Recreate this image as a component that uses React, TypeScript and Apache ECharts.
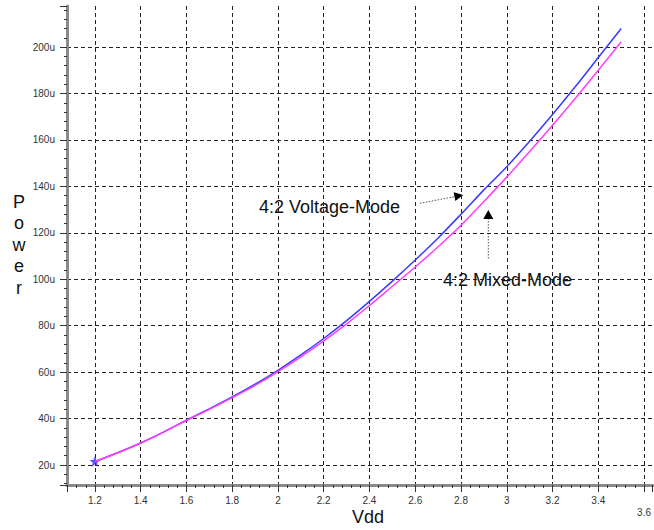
import React, { useEffect, useRef } from "react";
import * as echarts from "echarts";

// Supply voltage sweep (V)
const vdd = [1.2, 1.3, 1.4, 1.5, 1.6, 1.7, 1.8, 1.9, 2.0, 2.1, 2.2, 2.3, 2.4, 2.5, 2.6, 2.7, 2.8, 2.9, 3.0, 3.1, 3.2, 3.3, 3.4, 3.5];
// Power (uW) — 4:2 Voltage-Mode (blue)
const voltageMode = [21.5, 25.3, 29.5, 34.2, 39.3, 44.2, 49.3, 54.8, 60.8, 67.4, 74.5, 82.2, 90.5, 99.2, 108.3, 117.8, 128, 138.5, 148.5, 159.5, 171, 183, 195.5, 208];
// Power (uW) — 4:2 Mixed-Mode (magenta)
const mixedMode = [21.5, 25.3, 29.5, 34.2, 39.3, 44, 49, 54.3, 60.2, 66.6, 73.5, 80.8, 88.7, 97, 105.3, 114, 123.3, 133.5, 144, 155, 166.3, 178, 190, 202.3];

const yTickSuffix = "u";
const xTitle = "Vdd";
const yTitle = "Power";
const labelVoltage = "4:2 Voltage-Mode";
const labelMixed = "4:2 Mixed-Mode";

const FONT = "'Liberation Sans', Arial, Helvetica, sans-serif";
const NARROW = "'Liberation Sans Narrow', 'Liberation Sans', Arial, sans-serif";

export default function App() {
  const ref = useRef<HTMLDivElement>(null);

  useEffect(() => {
    if (!ref.current) return;
    const chart = echarts.init(ref.current, null, { renderer: "svg" });

    const star =
      "path://M0,-5L1.3,-1.6L5,-1.6L2,0.7L3.1,4.3L0,2.1L-3.1,4.3L-2,0.7L-5,-1.6L-1.3,-1.6Z";

    const option: any = {
      animation: false,
      backgroundColor: "#ffffff",
      grid: { left: 67, right: 0, top: 6, bottom: 45, containLabel: false },
      xAxis: {
        type: "value",
        min: 1.078,
        max: 3.638,
        splitNumber: 12,
        minInterval: 0.2,
        maxInterval: 0.2,
        axisLine: { show: true, lineStyle: { color: "#8a8a8a", width: 3 } },
        axisTick: { show: true, inside: false, length: 7, lineStyle: { color: "#333", width: 1 } },
        minorTick: { show: true, splitNumber: 5, length: 3, lineStyle: { color: "#333", width: 1 } },
        axisLabel: {
          showMinLabel: false,
          showMaxLabel: false,
          margin: 10,
          fontFamily: NARROW,
          fontSize: 10,
          color: "#333",
          formatter: (v: number) => {
            const s = String(Math.round(v * 10) / 10);
            return Math.abs(v - 3.6) < 1e-6 ? "{low|" + s + "}" : s;
          },
          rich: { low: { fontFamily: NARROW, fontSize: 10, color: "#333", padding: [12, 0, 0, 0] } },
        },
        splitLine: {
          show: true,
          showMinLine: false,
          showMaxLine: false,
          lineStyle: { color: "#222", type: [4, 3], width: 1 },
        },
      },
      yAxis: {
        type: "value",
        min: 11.4,
        max: 217.7,
        splitNumber: 10,
        minInterval: 20,
        maxInterval: 20,
        axisLine: { show: true, lineStyle: { color: "#8a8a8a", width: 3 } },
        axisTick: { show: true, inside: false, length: 7, lineStyle: { color: "#333", width: 1 } },
        minorTick: { show: true, splitNumber: 5, length: 3, lineStyle: { color: "#333", width: 1 } },
        axisLabel: {
          showMinLabel: false,
          showMaxLabel: false,
          margin: 12,
          fontFamily: NARROW,
          fontSize: 10,
          color: "#333",
          formatter: (v: number) => Math.round(v) + yTickSuffix,
        },
        splitLine: {
          show: true,
          showMinLine: false,
          showMaxLine: false,
          lineStyle: { color: "#222", type: [4, 3], width: 1 },
        },
      },
      series: [
        {
          name: labelVoltage,
          type: "line",
          data: vdd.map((x, i) => [x, voltageMode[i]]),
          showSymbol: false,
          symbol: "none",
          smooth: 0.3,
          lineStyle: { color: "#3a3aff", width: 1.5 },
          z: 2,
        },
        {
          name: "start",
          type: "scatter",
          data: [[vdd[0], voltageMode[0]]],
          symbol: star,
          symbolSize: 11,
          itemStyle: { color: "#3030ff" },
          z: 3,
        },
        {
          name: labelMixed,
          type: "line",
          data: vdd.map((x, i) => [x, mixedMode[i]]),
          showSymbol: false,
          symbol: "none",
          smooth: 0.3,
          lineStyle: { color: "#ff3cff", width: 1.5 },
          z: 4,
        },
      ],
      graphic: [
        {
          type: "text",
          x: 19,
          y: 191,
          style: {
            text: yTitle.split("").join("\n"),
            fontFamily: FONT,
            fontSize: 18,
            lineHeight: 21.5,
            fill: "#111",
            align: "center",
          },
        },
        {
          type: "text",
          x: 368,
          y: 517,
          style: {
            text: xTitle,
            fontFamily: FONT,
            fontSize: 18,
            fill: "#111",
            align: "center",
            verticalAlign: "middle",
          },
        },
        {
          type: "text",
          x: 259,
          y: 207,
          style: {
            text: labelVoltage,
            fontFamily: FONT,
            fontSize: 18,
            fill: "#111",
            align: "left",
            verticalAlign: "middle",
          },
        },
        {
          type: "line",
          shape: { x1: 420, y1: 203.3, x2: 455, y2: 196.6 },
          style: { stroke: "#555", lineWidth: 1, lineDash: [1.5, 1.5] },
        },
        {
          type: "polygon",
          shape: { points: [[463.3, 195], [455.3, 201.1], [453.7, 192.3]] },
          style: { fill: "#000" },
        },
        {
          type: "text",
          x: 443,
          y: 280,
          style: {
            text: labelMixed,
            fontFamily: FONT,
            fontSize: 18,
            fill: "#111",
            align: "left",
            verticalAlign: "middle",
          },
        },
        {
          type: "line",
          shape: { x1: 488.3, y1: 258.5, x2: 488.3, y2: 219 },
          style: { stroke: "#555", lineWidth: 1, lineDash: [1.5, 1.5] },
        },
        {
          type: "polygon",
          shape: { points: [[488.3, 210], [493.3, 219], [483.3, 219]] },
          style: { fill: "#000" },
        },
      ],
    };

    chart.setOption(option);
    return () => chart.dispose();
  }, []);

  return (
    <div
      ref={ref}
      style={{ position: "fixed", left: 0, top: 0, width: 654, height: 530, background: "#fff" }}
    />
  );
}
